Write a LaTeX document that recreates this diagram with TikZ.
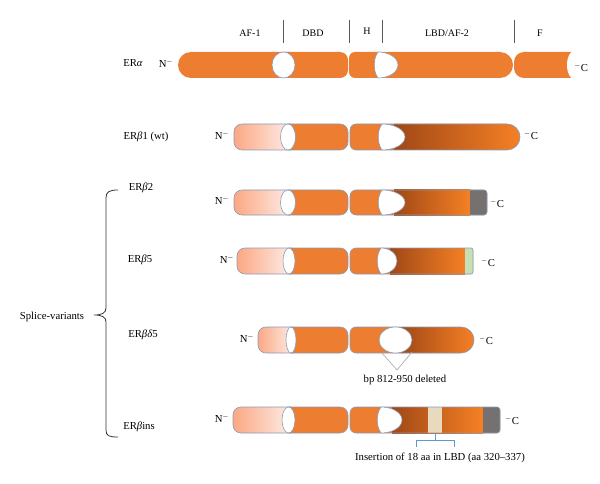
\documentclass[tikz,border=0pt]{standalone}
\usepackage{fontspec}
\setmainfont{Liberation Serif}
\definecolor{erorange}{RGB}{237,125,49}
\definecolor{erlight}{RGB}{245,128,37}
\definecolor{erbrown}{RGB}{160,72,22}
\definecolor{erpeach}{RGB}{251,168,132}
\definecolor{erpale}{RGB}{253,236,229}
\definecolor{eredge}{RGB}{140,155,182}
\definecolor{ergray}{RGB}{118,113,113}
\definecolor{ergreen}{RGB}{197,224,180}
\definecolor{erbeige}{RGB}{232,218,190}
\definecolor{erblue}{RGB}{91,155,213}
% one bar segment: x1, x2, top, bottom, left corner, right corner
\newcommand{\barseg}[6]{({(#1+#2)/2},#3) [rounded corners=#5pt] -- (#1,#3) -- (#1,#4) -- ({(#1+#2)/2},#4) [rounded corners=#6pt] -- (#2,#4) -- (#2,#3) -- cycle}
% half-open cut in the LBD: left x, width, top, bottom
\newcommand{\dcut}[4]{(#1,#3) arc[start angle=-90, end angle=90, x radius=#2, y radius={(#4-#3)/2}] .. controls ({#1-5},{#4-7}) and ({#1-5},{#3+7}) .. cycle}

\begin{document}
\begin{tikzpicture}[x=1pt, y=-1pt,
        lbl/.style={font=\fontsize{10.7}{12}\selectfont, inner sep=0pt},
        hdr/.style={font=\fontsize{10}{12}\selectfont, inner sep=0pt},
        outl/.style={draw=eredge, line width=0.6pt},
        divider/.style={draw=black!65, line width=0.8pt},
        brk/.style={draw=black!80, line width=0.8pt},
        del/.style={draw=black!35, line width=0.6pt},
        ins/.style={draw=erblue, line width=0.7pt}
    ]
    \useasboundingbox (0,0) rectangle (600,484);

    % domain header
    \node[hdr] (af1) at (250,33) {AF-1};
    \node[hdr] (dbd) at (313,33) {DBD};
    \node[hdr] (hinge) at (367,31) {H};
    \node[hdr] (lbd) at (447,33) {LBD/AF-2};
    \node[hdr] (fdom) at (540,33) {F};
    \foreach \xd in {283,349,382,514}
        \draw[divider] (\xd,20) -- (\xd,43);

    % ER alpha
    \fill[erorange] \barseg{178}{290}{52}{78}{13}{0.01};
    \fill[erorange] \barseg{283}{348}{52}{78}{0.01}{8};
    \fill[erorange] \barseg{349}{513}{52}{78}{6}{13};
    \fill[erorange] \barseg{514}{574}{52}{78}{10}{0.01};
    \draw[outl, fill=white] (283.5,65) ellipse [x radius=11.5, y radius=13];
    \draw[outl, fill=white] \dcut{378}{20}{52}{78};
    \fill[white] (574,65) ellipse [x radius=7, y radius=14];
    \node[lbl] (era) at (133,63) {ER\textit{α}};
    \node[lbl] (era-n) at (166,63) {N$^{-}$};
    \node[lbl] (era-c) at (581,67) {$^{-}$C};

    % ER beta1 (wt)
    \draw[outl, left color=erpeach, right color=erpale] \barseg{234}{290}{124}{150}{8}{0.01};
    \draw[outl, fill=erorange] \barseg{288}{348}{124}{150}{0.01}{8};
    \fill[erorange] \barseg{350}{520}{124}{150}{6}{13};
    \shade[left color=erbrown, right color=erlight] \barseg{394}{520}{124}{150}{0.01}{13};
    \draw[outl] \barseg{350}{520}{124}{150}{6}{13};
    \draw[outl, fill=white] (288,137) ellipse [x radius=7.5, y radius=13];
    \draw[outl, fill=white] \dcut{382}{23}{124}{150};
    \node[lbl] (erb1) at (146,137) {ER\textit{β}1 (wt)};
    \node[lbl] (erb1-n) at (222,135) {N$^{-}$};
    \node[lbl] (erb1-c) at (531,135) {$^{-}$C};

    % ER beta2
    \draw[outl, left color=erpeach, right color=erpale] \barseg{234}{290}{190}{215}{8}{0.01};
    \draw[outl, fill=erorange] \barseg{288}{348}{190}{215}{0.01}{8};
    \fill[erorange] \barseg{350}{487}{190}{215}{6}{3};
    \shade[left color=erbrown, right color=erlight] (394,190) rectangle (470,215);
    \fill[ergray] \barseg{470}{487}{190}{215}{0.01}{3};
    \draw[outl] \barseg{350}{487}{190}{215}{6}{3};
    \draw[outl, fill=white] (288,202.5) ellipse [x radius=7.5, y radius=12.5];
    \draw[outl, fill=white] \dcut{382}{23}{190}{215};
    \node[lbl] (erb2) at (141,188) {ER\textit{β}2};
    \node[lbl] (erb2-n) at (222,200) {N$^{-}$};
    \node[lbl] (erb2-c) at (497,203) {$^{-}$C};

    % ER beta5
    \draw[outl, left color=erpeach, right color=erpale] \barseg{237}{291}{248}{274}{8}{0.01};
    \draw[outl, fill=erorange] \barseg{289}{348}{248}{274}{0.01}{8};
    \fill[erorange] \barseg{350}{473}{248}{274}{6}{2};
    \shade[left color=erbrown, right color=erlight] (390,248) rectangle (465,274);
    \fill[ergreen] \barseg{465}{473}{248}{274}{0.01}{2};
    \draw[outl] \barseg{350}{473}{248}{274}{6}{2};
    \draw[outl, fill=white] (289,261) ellipse [x radius=6, y radius=13];
    \draw[outl, fill=white] \dcut{381}{16}{248}{274};
    \node[lbl] (erb5) at (140,260) {ER\textit{β}5};
    \node[lbl] (erb5-n) at (227,259) {N$^{-}$};
    \node[lbl] (erb5-c) at (488,262) {$^{-}$C};

    % ER beta delta5
    \draw[outl, left color=erpeach, right color=erpale] \barseg{258}{293}{327}{353}{8}{0.01};
    \draw[outl, fill=erorange] \barseg{291}{348}{327}{353}{0.01}{8};
    \fill[erorange] \barseg{350}{474}{327}{353}{6}{13};
    \shade[left color=erbrown, right color=erlight] \barseg{400}{474}{327}{353}{0.01}{13};
    \draw[outl] \barseg{350}{474}{327}{353}{6}{13};
    \draw[outl, fill=white] (291,340) ellipse [x radius=5, y radius=13];
    \draw[outl, fill=white] (395.5,340) ellipse [x radius=16.5, y radius=13];
    \draw[del] (381,352) -- (397,370) -- (412,352);
    \node[lbl] (erbd5) at (143,335) {ER\textit{βδ}5};
    \node[lbl] (erbd5-n) at (247,338) {N$^{-}$};
    \node[lbl] (erbd5-c) at (486,340) {$^{-}$C};
    \node[lbl] (delnote) at (405,380) {bp 812-950 deleted};

    % ER beta ins
    \draw[outl, left color=erpeach, right color=erpale] \barseg{233}{291}{407}{433}{8}{0.01};
    \draw[outl, fill=erorange] \barseg{288.5}{348}{407}{433}{0.01}{8};
    \fill[erorange] \barseg{350}{500}{407}{433}{6}{3};
    \shade[left color=erbrown, right color=erlight] (392,407) rectangle (483,433);
    \fill[erbeige] (428,407) rectangle (442,433);
    \fill[ergray] \barseg{483}{500}{407}{433}{0.01}{3};
    \draw[outl] \barseg{350}{500}{407}{433}{6}{3};
    \draw[outl, fill=white] (288.5,420) ellipse [x radius=6.5, y radius=13];
    \draw[outl, fill=white] \dcut{381}{21}{407}{433};
    \draw[ins] (435,433) -- (435,440) (416,447) -- (416,440) -- (454,440) -- (454,447);
    \node[lbl] (erbins) at (139,427) {ER\textit{β}ins};
    \node[lbl] (erbins-n) at (222,418) {N$^{-}$};
    \node[lbl] (erbins-c) at (512,420) {$^{-}$C};
    \node[lbl] (insnote) at (440,458) {Insertion of 18 aa in LBD (aa 320–337)};

    % splice variant brace
    \draw[brk] (118,190) .. controls (109,190) and (106,192) .. (106,198) -- (106,308)
        .. controls (106,313) and (102,315) .. (94,315)
        .. controls (102,315) and (106,317) .. (106,322) -- (106,430)
        .. controls (106,436) and (109,437) .. (118,437);
    \node[lbl] (splice) at (52,317) {Splice-variants};
\end{tikzpicture}
\end{document}
